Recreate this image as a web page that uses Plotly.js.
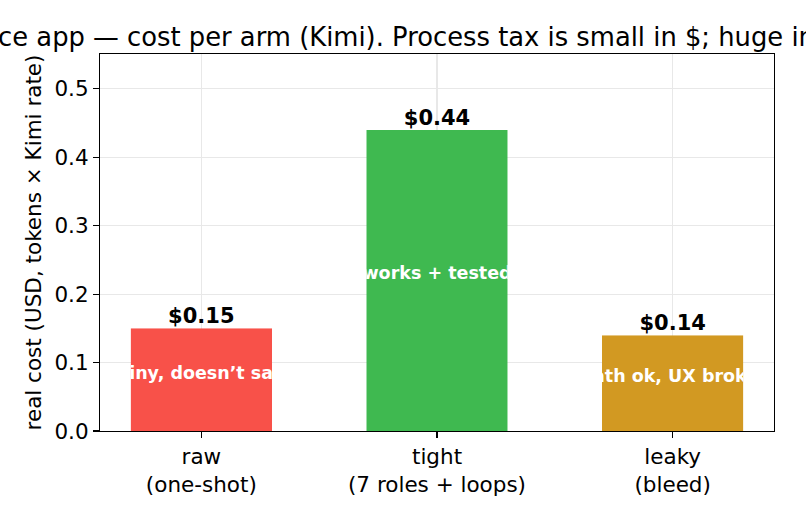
<!DOCTYPE html>
<html>
<head>
<meta charset="utf-8">
<script src="https://cdn.plot.ly/plotly-3.0.1.min.js"></script>
<style>
  html, body { margin: 0; padding: 0; background: #fff; }
  #chart { width: 806px; height: 520px; }
</style>
</head>
<body>
<div id="chart"></div>
<script>
// arms and what each one cost
const arms = ['raw<br>(one-shot)', 'tight<br>(7 roles + loops)', 'leaky<br>(bleed)'];
const costs = [0.15, 0.44, 0.14];
const costLabels = ['$0.15', '$0.44', '$0.14'];
const verdicts = ['shiny, doesn\u2019t save', 'works + tested', 'math ok, UX broken'];
const armColors = ['#f85149', '#3fb950', '#d29922'];
const yTicks = [0, 0.1, 0.2, 0.3, 0.4, 0.5];

const FONT = 'DejaVu Sans, sans-serif';

let bars = {
	type: 'bar',
	x: [0, 1, 2],
	y: costs,
	width: 0.6,
	marker: {color: armColors, line: {width: 0}},
	text: verdicts,
	textposition: 'inside',
	insidetextanchor: 'middle',
	constraintext: 'none',
	textangle: 0,
	insidetextfont: {family: FONT, size: 17.5, color: '#ffffff', weight: 'bold'},
	hoverinfo: 'skip'
};

let tops = {
	type: 'scatter',
	mode: 'text',
	x: [0, 1, 2],
	y: costs,
	text: costLabels,
	textposition: 'top center',
	textfont: {family: FONT, size: 21, color: '#000000', weight: 'bold'},
	cliponaxis: false,
	hoverinfo: 'skip'
};

let layout = {
	width: 806,
	height: 520,
	margin: {l: 100, r: 32, t: 54, b: 89},
	paper_bgcolor: '#ffffff',
	plot_bgcolor: '#ffffff',
	showlegend: false,
	font: {family: FONT, size: 21.5, color: '#000000'},
	title: {
		text: 'Finance app \u2014 cost per arm (Kimi). Process tax is small in $; huge in outcome.',
		font: {family: FONT, size: 25.8, color: '#000000'},
		xref: 'paper', x: 0.5, xanchor: 'center',
		yref: 'container', y: 1 - 37 / 520, yanchor: 'middle'
	},
	xaxis: {
		range: [-0.43, 2.43],
		tickmode: 'array',
		tickvals: [0, 1, 2],
		ticktext: arms,
		ticks: 'outside', ticklen: 6, tickwidth: 1.1, tickcolor: '#000',
		showline: true, linecolor: '#000', linewidth: 1.1, mirror: true,
		showgrid: true, gridcolor: '#e8e8e8', gridwidth: 1.1,
		zeroline: false,
		tickfont: {family: FONT, size: 21.5}
	},
	yaxis: {
		range: [0, 0.551],
		tickmode: 'array',
		tickvals: yTicks,
		ticktext: yTicks.map(v => v.toFixed(1)),
		ticks: 'outside', ticklen: 6, tickwidth: 1.1, tickcolor: '#000',
		showline: true, linecolor: '#000', linewidth: 1.1, mirror: true,
		showgrid: true, gridcolor: '#e8e8e8', gridwidth: 1.1,
		zeroline: false,
		tickfont: {family: FONT, size: 21.5},
		title: {text: 'real cost (USD, tokens \u00d7 Kimi rate)', font: {family: FONT, size: 21.5}, standoff: 6}
	}
};

// matplotlib clips the bar text to the bar, so do the same here
function clipBarText() {
	let ns = 'http://www.w3.org/2000/svg';
	let svg = document.querySelector('#chart svg.main-svg');
	let defs = svg.querySelector('defs');
	document.querySelectorAll('#chart .barlayer .point').forEach((pt, i) => {
		let path = pt.querySelector('path');
		if (!path) return;
		let cp = document.createElementNS(ns, 'clipPath');
		cp.setAttribute('id', 'barclip' + i);
		let p = document.createElementNS(ns, 'path');
		p.setAttribute('d', path.getAttribute('d'));
		cp.appendChild(p);
		defs.appendChild(cp);
		pt.setAttribute('clip-path', 'url(#barclip' + i + ')');
		// text sits a touch above the bar middle in the original
		let txt = pt.querySelector('text');
		if (txt) {
			let tr = txt.getAttribute('transform') || '';
			txt.setAttribute('transform', 'translate(0,-7) ' + tr);
		}
	});
}

Plotly.newPlot('chart', [bars, tops], layout, {displayModeBar: false, staticPlot: true}).then(clipBarText);
</script>
</body>
</html>
